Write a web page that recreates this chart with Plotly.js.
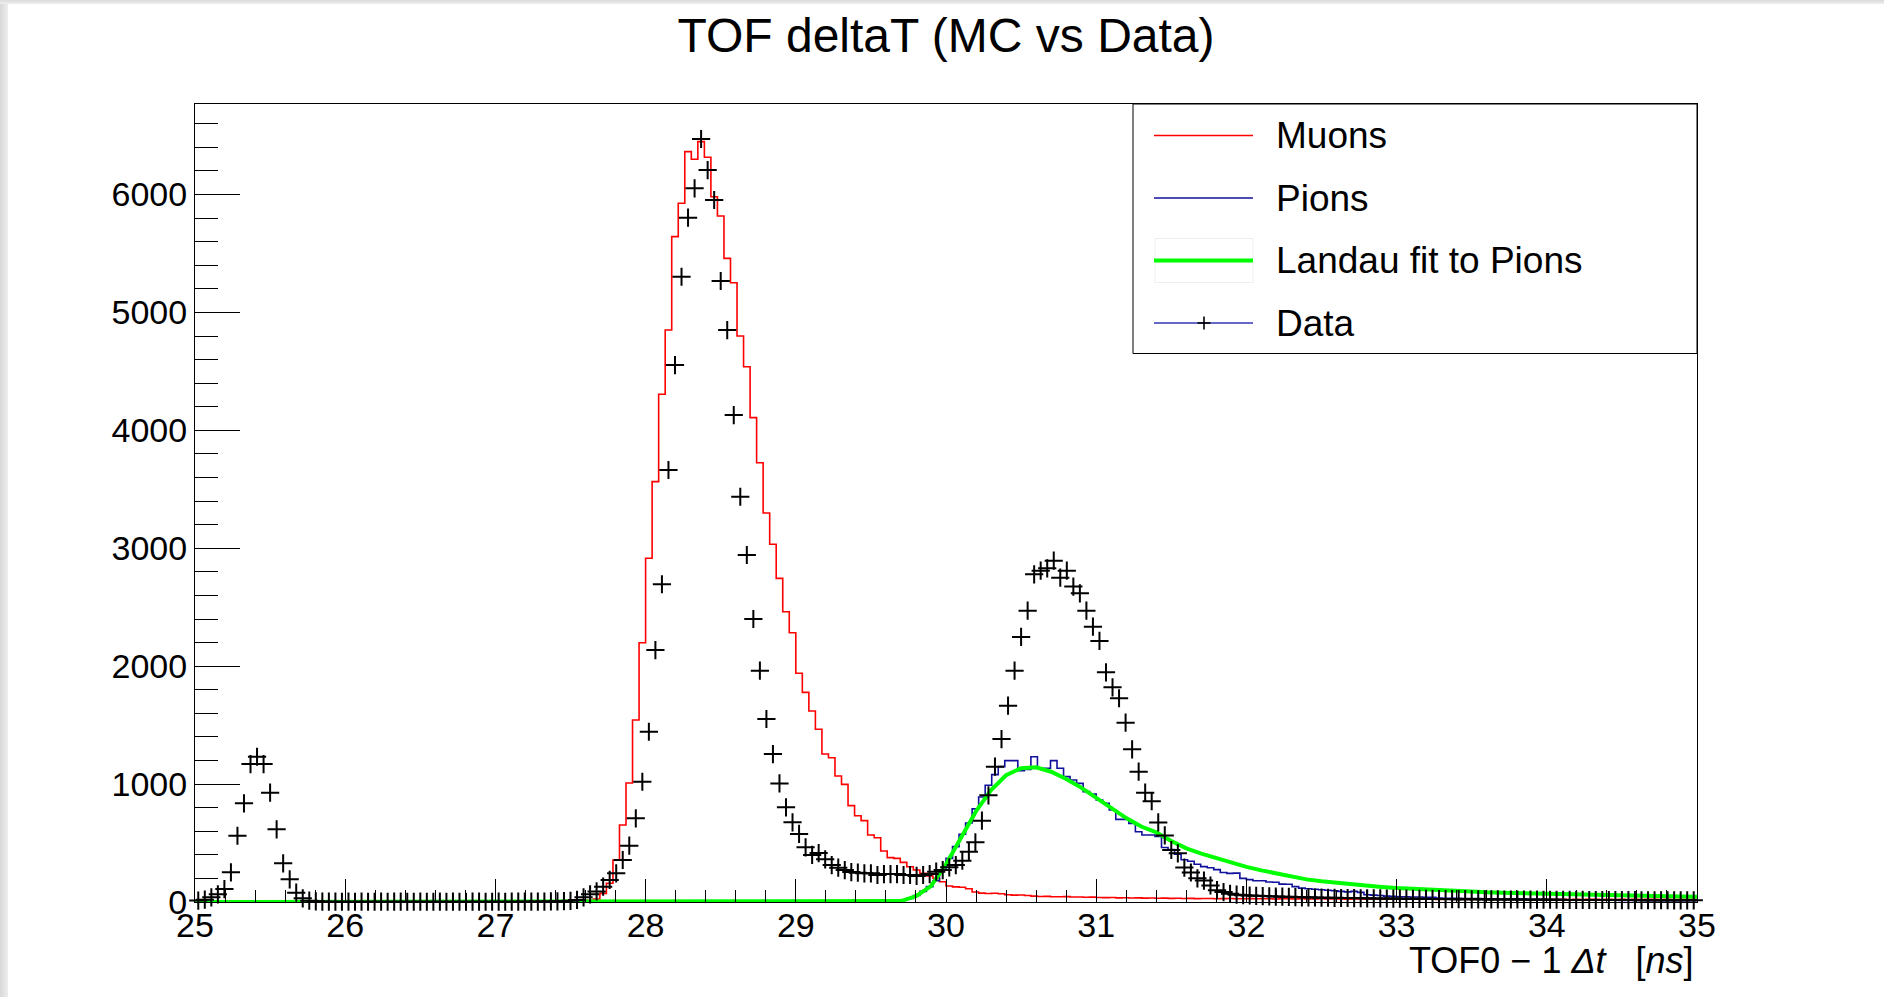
<!DOCTYPE html>
<html>
<head>
<meta charset="utf-8">
<script src="https://cdn.plot.ly/plotly-3.0.1.min.js"></script>
<style>
html,body{margin:0;padding:0;background:#fff;}
#wrap{position:relative;width:1884px;height:997px;background:#fff;overflow:hidden;}
#bandL{position:absolute;left:0;top:0;width:8px;height:997px;background:linear-gradient(to right,#d8d8d8,#ededed);}
#bandT{position:absolute;left:0;top:0;width:1884px;height:4px;background:linear-gradient(to bottom,#dadada,#efefef);}
#chart{position:absolute;left:0;top:0;width:1884px;height:997px;}
</style>
</head>
<body>
<div id="wrap"><div id="bandL"></div><div id="bandT"></div><div id="chart"></div></div>
<script>
// ---------------- data ----------------
const chartTitle = 'TOF deltaT (MC vs Data)';
const xAxisTitle = 'TOF0 \u2212 1 <i>\u0394t</i>\u00a0\u00a0\u00a0[<i>ns</i>]';
const legendLabels = ['Muons', 'Pions', 'Landau fit to Pions', 'Data'];

// histogram binning: 230 bins between 25 and 35 ns
const histLow = 25;
const histHigh = 35;
const histBins = 230;

const muonCounts = [
  0,0,0,0,0,0,0,0,0,0,
  0,0,0,0,0,0,0,0,0,0,
  0,0,0,0,0,0,0,0,0,0,
  0,0,0,0,0,0,0,0,0,0,
  0,0,0,0,0,0,0,0,0,0,
  0,0,0,0,0,0,0,0,
  3,8,15,25,73,159,356,653,1009,1544,
  2199,2915,3565,4306,4851,5643,5926,6364,6299,6449,
  6316,5982,5818,5459,5252,4800,4540,4108,3726,3299,
  3034,2745,2462,2284,1940,1778,1620,1465,1255,1224,
  1069,998,817,732,690,568,545,433,376,370,
  336,299,271,243,220,201,172,136,128,125,
  112,85,75,72,74,70,62,58,60,55,
  50,47,48,45,44,46,42,43,40,41,
  38,37,38,35,36,34,35,33,34,32,
  33,31,32,
  30,31,29,30,30,28,29,30,28,27,
  29,28,27,28,26,27,28,26,27,26,
  25,27,26,25,26,24,25,26,24,25,
  24,25,23,24,25,23,24,23,24,22,
  23,24,22,23,22,24,23,22,23,21,
  22,23,22,21,23,22,21,22,23,21,
  22,21,22,23,21,22,21,22,21,22,
  21,22,23,21,22,21,22,21,22
];

const pionCounts = [
  0,0,0,0,0,0,0,0,0,0,
  0,0,0,0,0,0,0,0,0,0,
  0,0,0,0,0,0,0,0,0,0,
  0,0,0,0,0,0,0,0,0,0,
  0,0,0,0,0,0,0,0,0,0,
  0,0,0,0,0,0,0,0,0,0,
  0,0,0,0,0,0,0,0,0,0,
  0,0,0,0,0,0,0,0,0,0,
  0,0,0,0,0,0,0,0,0,0,
  0,0,0,0,0,0,0,0,0,0,
  0,0,0,0,0,0,0,
  5,15,30,55,90,130,180,270,370,470,
  575,670,790,890,990,1080,1148,1199,1199,1114,
  1125,1232,1134,1134,1199,1134,1063,1035,1006,936,
  916,865,837,780,701,701,667,596,568,568,
  556,462,445,405,358,345,320,300,290,275,
  250,243,245,200,190,180,180,170,168,152,
  150,130,118,112,108,104,100,95,90,86,
  90,82,62,58,55,50,48,45,45,43,
  42,40,40,
  33,32,31,31,30,30,29,28,28,27,
  26,25,24,24,23,22,22,21,20,20,
  19,18,18,17,17,16,15,15,14,14,
  13,13,12,12,12,11,11,10,10,10
];

const dataCounts = [
  12,20,40,65,110,252,562,837,1170,1232,
  1170,927,616,328,192,79,31,11,6,4,
  3,3,2,
  3,2,3,2,2,3,2,3,3,2,
  2,3,2,2,3,2,3,2,2,3,
  3,2,2,3,2,3,3,4,3,4,
  4,5,6,
  7,10,18,40,65,90,130,187,243,356,
  478,710,1020,1444,2137,2695,3664,4554,5303,5804,
  6053,6471,6208,5954,5267,4851,4130,3437,2943,2400,
  1962,1552,1255,1006,803,676,577,464,399,415,
  362,313,291,271,254,249,243,243,229,237,
  237,237,229,229,221,229,237,257,271,294,
  313,350,427,506,690,905,1148,1382,1665,1962,
  2248,2471,2779,2810,2830,2895,2751,2810,2675,2618,
  2471,2335,2214,1948,1821,1728,1521,1295,1105,927,
  855,675,565,441,413,292,250,201,182,140,
  100,84,70,62,58,
  55,52,50,48,46,45,44,42,40,40,
  38,37,36,35,34,34,33,32,31,30,
  30,29,29,28,28,27,27,26,26,25,
  25,24,24,24,23,23,22,22,22,21,
  21,21,20,20,20,19,19,19,18,18,
  18,18,17,17,17,17,16,16,16,16,
  15,15,15,15,15,14,14,14,14
];

// Landau fit to pions
const landauX = [25.0, 29.5, 29.6, 29.7, 29.8, 29.9, 30.0, 30.1, 30.2, 30.3, 30.4, 30.5, 30.6,
  30.7, 30.8, 30.9, 31.0, 31.1, 31.2, 31.3, 31.4, 31.5, 31.6, 31.7, 31.8, 31.9, 32.0,
  32.1, 32.2, 32.3, 32.4, 32.5, 32.6, 32.7, 32.8, 32.9, 33.0, 33.1, 33.2, 33.3, 33.4,
  33.5, 33.6, 33.7, 33.8, 33.9, 34.0, 34.1, 34.2, 34.3, 34.4, 34.5, 34.6, 34.7, 34.8, 34.9, 35.0];
const landauY = [0, 0, 0, 8, 50, 135, 320, 540, 770, 950, 1075, 1135, 1142,
  1105, 1043, 970, 885, 797, 712, 640, 590, 518, 455, 410, 370, 335, 298,
  268, 240, 212, 192, 176, 162, 150, 139, 128, 118, 111, 105, 100, 94,
  88, 82, 79, 77, 74, 70, 67, 65, 62, 59, 56, 54, 51, 49, 46, 44];

// ---------------- build ----------------
const binW = (histHigh - histLow) / histBins;
function stepTrace(counts) {
  const xs = [], ys = [];
  for (let i = 0; i < counts.length; i++) { xs.push(histLow + i * binW); ys.push(counts[i]); }
  xs.push(histLow + counts.length * binW); ys.push(counts[counts.length - 1]);
  return {x: xs, y: ys};
}
const centers = dataCounts.map((_, i) => histLow + (i + 0.5) * binW);

const FONT = 'Liberation Sans, Arial, Helvetica, sans-serif';
const mu = stepTrace(muonCounts);
const pi = stepTrace(pionCounts);

const traces = [
  {type: 'scatter', mode: 'lines', x: mu.x, y: mu.y, line: {shape: 'hv', color: '#ff0000', width: 1.6}},
  {type: 'scatter', mode: 'lines', x: pi.x, y: pi.y, line: {shape: 'hv', color: '#10109c', width: 1.6}},
  {type: 'scatter', mode: 'lines', x: landauX, y: landauY, line: {color: '#00ff00', width: 4}},
  {type: 'scatter', mode: 'markers', x: centers, y: dataCounts, cliponaxis: false,
   marker: {symbol: 'cross-thin', size: 13, color: '#000', line: {color: '#000', width: 2}}}
];

// plot frame in page pixels: x 195..1697, y 104..902
const L = 195, R = 1697, T = 104, B = 902;
const px = X => (X - L) / (R - L);
const py = Y => (B - Y) / (B - T);

const shapes = [];
const annotations = [];
// legend box
shapes.push({type: 'rect', xref: 'paper', yref: 'paper', x0: px(1133), x1: 1, y0: py(353.5), y1: 1,
  line: {color: '#000', width: 1}, fillcolor: '#fff', layer: 'above'});
const legStyles = [
  {color: '#ff0000', width: 1.5},
  {color: '#10109c', width: 1.5},
  {color: '#00ff00', width: 4},
  {color: '#3434b4', width: 1.5}
];
const rowY = [135.5, 198, 260.5, 323];
legendLabels.forEach((lab, k) => {
  const y = py(rowY[k]);
  if (k === 2) {
    shapes.push({type: 'rect', xref: 'paper', yref: 'paper', x0: px(1155), x1: px(1253),
      y0: py(rowY[k] + 22), y1: py(rowY[k] - 22), line: {color: '#eeeeee', width: 1}, fillcolor: 'rgba(0,0,0,0)', layer: 'above'});
  }
  shapes.push({type: 'line', xref: 'paper', yref: 'paper', x0: px(1154), x1: px(1253), y0: y, y1: y,
    line: {color: legStyles[k].color, width: legStyles[k].width}, layer: 'above'});
  if (k === 3) {
    shapes.push({type: 'line', xref: 'paper', yref: 'paper', x0: px(1204), x1: px(1204),
      y0: py(rowY[k] - 6.5), y1: py(rowY[k] + 6.5), line: {color: '#000', width: 1.6}, layer: 'above'});
    shapes.push({type: 'line', xref: 'paper', yref: 'paper', x0: px(1197.5), x1: px(1210.5),
      y0: y, y1: y, line: {color: '#000', width: 1.6}, layer: 'above'});
  }
  annotations.push({xref: 'paper', yref: 'paper', x: px(1274), y: y, xanchor: 'left', yanchor: 'middle',
    text: lab, showarrow: false, font: {family: FONT, size: 37, color: '#000'}});
});
// x axis title
annotations.push({xref: 'paper', yref: 'paper', x: px(1696), y: py(961), xanchor: 'right', yanchor: 'middle',
  text: xAxisTitle, showarrow: false, font: {family: FONT, size: 36, color: '#000'}});

const layout = {
  width: 1884, height: 997,
  margin: {l: L, r: 1884 - R, t: T, b: 997 - B, pad: 0},
  paper_bgcolor: 'rgba(0,0,0,0)',
  plot_bgcolor: '#ffffff',
  showlegend: false,
  hovermode: false,
  title: {text: chartTitle, font: {family: FONT, size: 48, color: '#000'},
    x: 0.5, xref: 'paper', xanchor: 'center', y: 1 - 35 / 997, yref: 'container', yanchor: 'middle'},
  xaxis: {
    range: [histLow, histHigh], tick0: 25, dtick: 1, ticks: 'inside', ticklen: 23, tickwidth: 1, tickcolor: '#000',
    showline: true, linecolor: '#000', linewidth: 1, mirror: true, showgrid: false, zeroline: false,
    tickfont: {family: FONT, size: 34, color: '#000'}, ticklabelstandoff: -7,
    minor: {ticks: 'inside', tick0: 25, dtick: 0.2, ticklen: 12, tickwidth: 1, tickcolor: '#000', showgrid: false}
  },
  yaxis: {
    range: [0, 6768], tick0: 0, dtick: 1000, ticks: 'inside', ticklen: 45, tickwidth: 1, tickcolor: '#000',
    showline: true, linecolor: '#000', linewidth: 1, mirror: true, showgrid: false, zeroline: false,
    tickfont: {family: FONT, size: 34, color: '#000'}, ticklabelstandoff: 0,
    minor: {ticks: 'inside', tick0: 0, dtick: 200, ticklen: 23, tickwidth: 1, tickcolor: '#000', showgrid: false}
  },
  shapes: shapes,
  annotations: annotations
};

Plotly.newPlot('chart', traces, layout, {staticPlot: true, displayModeBar: false});
</script>
</body>
</html>
